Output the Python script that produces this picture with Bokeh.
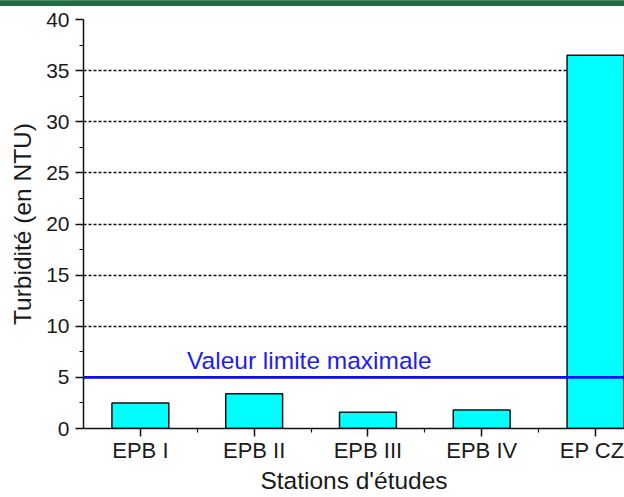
from bokeh.plotting import figure
from bokeh.models import (ColumnDataSource, FixedTicker, Range1d, Span, Label, Div)
from bokeh.layouts import column
from bokeh.embed import file_html
from bokeh.resources import INLINE

# Turbidity measured at each study station (NTU)
stations = ["EPB I", "EPB II", "EPB III", "EPB IV", "EP CZ"]
turbidity = [2.5, 3.4, 1.6, 1.8, 36.5]
limit_value = 5
limit_text = "Valeur limite maximale"
y_title = "Turbidité (en NTU)"
x_title = "Stations d'études"
y_ticks = [0, 5, 10, 15, 20, 25, 30, 35, 40]
y_minor = [2.5, 7.5, 12.5, 17.5, 22.5, 27.5, 32.5, 37.5]

positions = list(range(1, len(stations) + 1))
boundaries = [p + 0.5 for p in positions[:-1]]

FONT = "Liberation Sans"
INK = "#1a1a1a"

src = ColumnDataSource(dict(x=positions, top=turbidity, name=stations))

p = figure(width=624, height=491, output_backend="svg", toolbar_location=None,
           x_range=Range1d(0.5, 5.255), y_range=Range1d(0, 40),
           min_border_left=83, min_border_right=0, min_border_top=13,
           min_border_bottom=69)
p.outline_line_color = None
p.background_fill_color = "white"
p.border_fill_color = "white"

p.vbar(x="x", top="top", bottom=0, width=0.5, source=src,
       fill_color="#00ffff", line_color="#111111", line_width=1.5)

# horizontal dashed grid
p.xgrid.visible = False
p.ygrid.ticker = FixedTicker(ticks=y_ticks)
p.ygrid.grid_line_color = "#111111"
p.ygrid.grid_line_dash = "3 2"
p.ygrid.grid_line_width = 1.3

# maximum limit line and caption
limit = Span(location=limit_value, dimension="width", line_color="#0d0df2",
             line_width=2.6, level="overlay")
p.add_layout(limit)
p.add_layout(Label(x=1.41, y=limit_value, y_offset=17, text=limit_text,
                   text_font=FONT, text_font_size="24.5px", text_color="#1e1ef0",
                   text_baseline="alphabetic", text_align="left"))

# y axis
ya = p.yaxis[0]
ya.ticker = FixedTicker(ticks=y_ticks, minor_ticks=y_minor)
ya.bounds = (0, 40)
ya.axis_label = y_title
ya.axis_label_text_font = FONT
ya.axis_label_text_font_size = "24.5px"
ya.axis_label_text_font_style = "normal"
ya.axis_label_text_color = INK
ya.axis_label_standoff = 7
ya.major_label_text_font = FONT
ya.major_label_text_font_size = "21px"
ya.major_label_text_color = INK
ya.major_label_standoff = 6
ya.major_tick_in = 0
ya.major_tick_out = 8
ya.minor_tick_in = 0
ya.minor_tick_out = 4
ya.axis_line_width = 1.5
ya.axis_line_color = "#111111"
ya.major_tick_line_color = "#111111"
ya.major_tick_line_width = 1.5
ya.minor_tick_line_color = "#111111"
ya.minor_tick_line_width = 1.2

# x axis with station names
xa = p.xaxis[0]
xa.ticker = FixedTicker(ticks=positions, minor_ticks=boundaries)
xa.major_label_overrides = {pos: name for pos, name in zip(positions, stations)}
xa.axis_label = x_title
xa.axis_label_text_font = FONT
xa.axis_label_text_font_size = "24.5px"
xa.axis_label_text_font_style = "normal"
xa.axis_label_text_color = INK
xa.axis_label_standoff = 1
xa.major_label_text_font = FONT
xa.major_label_text_font_size = "22px"
xa.major_label_text_color = INK
xa.major_label_standoff = 1
xa.major_tick_in = 0
xa.major_tick_out = 8
xa.minor_tick_in = 0
xa.minor_tick_out = 4
xa.axis_line_width = 1.5
xa.axis_line_color = "#111111"
xa.major_tick_line_color = "#111111"
xa.major_tick_line_width = 1.5
xa.minor_tick_line_color = "#111111"
xa.minor_tick_line_width = 1.2

# green rule along the top of the page
band = Div(text="", width=624, height=6, margin=0,
           styles={"background": "linear-gradient(to bottom, #4f8f66 0px, #4f8f66 1px, "
                                 "#236b42 1px, #236b42 6px)"})

layout = column(band, p, spacing=0)

open("out.html", "w").write(file_html(layout, INLINE))
